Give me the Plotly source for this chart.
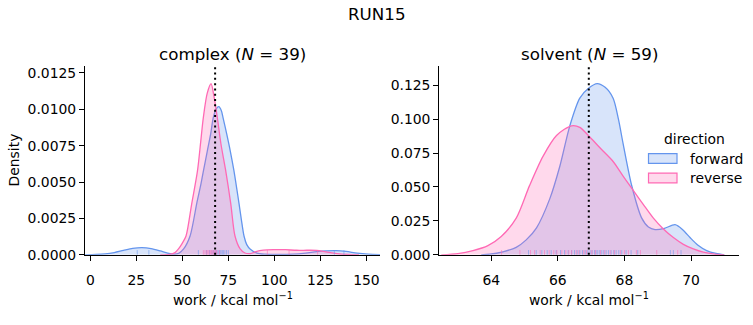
import plotly.graph_objects as go

# ---------------- data ----------------
complex_fwd_x = [-2.9, 3, 8, 13, 18, 23, 28, 33, 38, 42, 45.5, 48, 50.7, 54.2, 57.8, 60.0, 61.5,
                 63.5, 65.4, 66.8, 68.5, 69.8, 71.2, 72.1, 74.1, 76.1, 78.0, 79.5, 80.8, 82.2,
                 83.5, 85.0, 86.8, 90.5, 95, 102, 110, 117, 123, 128, 133.5, 139, 145, 151, 157.4]
complex_fwd_y = [0.0, 0.00002, 0.00006, 0.00015, 0.0003, 0.00044, 0.00049, 0.00043, 0.00027,
                 0.00012, 0.00005, 0.0001, 0.0004, 0.00129, 0.00352, 0.0048, 0.0058,
                 0.0071, 0.00831, 0.00943, 0.01005, 0.01018, 0.0099, 0.00943, 0.00831, 0.0071,
                 0.0058, 0.0046, 0.00352, 0.0023, 0.00129, 0.0007, 0.0004, 0.00012, 0.00004,
                 0.00002, 0.00004, 0.00012, 0.00022, 0.00027, 0.00029, 0.00023, 0.00011, 0.00004,
                 0.00001]

complex_rev_x = [38, 43, 46, 47.9, 50, 52.0, 55.1, 58.2, 60.0, 61.4, 63.5, 65.6, 67.3, 69.0, 71.0,
                 73.4, 76.3, 78.6, 81.4, 84, 87, 90, 94, 100, 106, 112, 118, 123, 128, 134, 140, 146]
complex_rev_y = [0.0, 0.00003, 0.00015, 0.0004, 0.0008, 0.00129, 0.00352, 0.00575, 0.0078,
                 0.00943, 0.0111, 0.01176, 0.0108, 0.00943, 0.0076, 0.0059, 0.00352, 0.00129,
                 0.0004, 0.00012, 0.00008, 0.00022, 0.00032, 0.00035, 0.00035, 0.00031, 0.00031,
                 0.0003, 0.0002, 0.00008, 0.00002, 0.0]

solvent_fwd_x = [63.7, 63.95, 64.35, 64.75, 65.05, 65.36, 65.76, 66.06, 66.36, 66.66, 66.94, 67.18,
                 67.42, 67.66, 67.82, 67.96, 68.22, 68.52, 68.72, 68.92, 69.2, 69.52, 69.75, 69.97,
                 70.2, 70.47, 70.75, 71.0]
solvent_fwd_y = [0.0, 0.0004, 0.0022, 0.0055, 0.011, 0.0199, 0.0414, 0.0653, 0.0951, 0.1155, 0.1231,
                 0.1262, 0.1235, 0.1155, 0.1, 0.082, 0.0509, 0.027, 0.0205, 0.0186, 0.0195, 0.0222,
                 0.0185, 0.0127, 0.0072, 0.0031, 0.001, 0.0]

solvent_rev_x = [62.5, 63.0, 63.45, 63.9, 64.3, 64.75, 65.15, 65.55, 65.96, 66.41, 66.66, 66.96,
                 67.3, 67.66, 67.96, 68.27, 68.57, 68.87, 69.17, 69.47, 69.77, 70.07, 70.37, 70.7, 71.0]
solvent_rev_y = [0.0, 0.0009, 0.0031, 0.0068, 0.0135, 0.027, 0.051, 0.0724, 0.088, 0.0951, 0.094,
                 0.0868, 0.078, 0.0688, 0.058, 0.0473, 0.037, 0.027, 0.019, 0.0127, 0.0077, 0.0043,
                 0.0019, 0.0005, 0.0]

# rug samples
complex_fwd_rug = [25.5, 31.8, 58.7, 63.2, 64.8, 66.1, 67.0, 67.9, 68.6, 69.3, 69.9, 70.4, 71.0,
                   71.7, 72.3, 73.1, 74.0, 75.0, 132.6, 137.8]
complex_rev_rug = [61.4, 62.3, 63.1, 63.8, 64.4, 65.0, 65.5, 66.0, 66.6, 67.1, 67.7, 68.3, 68.7,
                   70.2, 96.2, 108.0, 123.5]
solvent_fwd_rug = [65.12, 65.35, 65.52, 65.68, 65.8, 65.95, 66.08, 66.2, 66.31, 66.42, 66.5, 66.58,
                   66.66, 66.74, 66.82, 66.9, 66.97, 67.03, 67.1, 67.15, 67.2, 67.26, 67.32, 67.38,
                   67.45, 67.52, 67.6, 67.68, 67.75, 67.83, 67.92, 68.05, 68.2, 68.4, 69.38, 69.47, 69.7]
solvent_rev_rug = [64.31, 64.86, 65.18, 65.3, 65.47, 65.6, 65.74, 65.88, 65.97, 66.12, 66.24, 66.33,
                   66.41, 66.55, 66.63, 66.78, 66.86, 67.02, 67.13, 67.28, 67.41, 67.57, 67.7, 67.88,
                   68.0, 68.12, 68.36, 68.48, 68.97, 69.6]

complex_ref = 67.8
solvent_ref = 66.93

complex_ticks = [0, 25, 50, 75, 100, 125, 150]
complex_yticks = [0.0, 0.0025, 0.005, 0.0075, 0.01, 0.0125]
solvent_ticks = [64, 66, 68, 70]
solvent_yticks = [0.0, 0.025, 0.05, 0.075, 0.1, 0.125]

titles = ["complex (<i>N</i> = 39)", "solvent (<i>N</i> = 59)"]
suptitle = "RUN15"
legend_title = "direction"
directions = ["forward", "reverse"]

# ---------------- styling ----------------
W, H = 753, 325
FONT = "DejaVu Sans"
FS = 13.9
FT = 16.7
BLUE = (100, 149, 237)
PINK = (255, 105, 180)


def rgba(c, a):
    return f"rgba({c[0]},{c[1]},{c[2]},{a})"


def px_x(p):
    return p / W


def px_y(p):
    return 1 - p / H


fig = go.Figure()

panels = [
    ("x", "y", complex_fwd_x, complex_fwd_y, complex_rev_x, complex_rev_y,
     complex_fwd_rug, complex_rev_rug, complex_ref),
    ("x2", "y2", solvent_fwd_x, solvent_fwd_y, solvent_rev_x, solvent_rev_y,
     solvent_fwd_rug, solvent_rev_rug, solvent_ref),
]

shapes = []
for xa, ya, fx, fy, rx, ry, frug, rrug, ref in panels:
    for xs, ys, col in [(fx, fy, BLUE), (rx, ry, PINK)]:
        fig.add_trace(go.Scatter(
            x=xs, y=ys, mode="lines", xaxis=xa, yaxis=ya,
            line=dict(color=rgba(col, 1), width=1.3, shape="spline", smoothing=0.8),
            fill="tozeroy", fillcolor=rgba(col, 0.25),
            showlegend=False, hoverinfo="skip"))
    for rug, col in [(frug, BLUE), (rrug, PINK)]:
        for v in rug:
            shapes.append(dict(type="line", xref=xa, yref=f"{ya} domain",
                               x0=v, x1=v, y0=0, y1=0.025,
                               line=dict(color=rgba(col, 0.55), width=1)))
    shapes.append(dict(type="line", xref=xa, yref=f"{ya} domain",
                       x0=ref, x1=ref, y0=0, y1=1,
                       line=dict(color="black", width=2, dash="2px,3.3px")))

# legend (manual)
leg_items = [(directions[0], BLUE, 162), (directions[1], PINK, 182)]
annotations = []
for name, col, cy in leg_items:
    shapes.append(dict(type="rect", xref="paper", yref="paper",
                       x0=px_x(648.5), x1=px_x(677), y0=px_y(cy + 5), y1=px_y(cy - 5),
                       fillcolor=rgba(col, 0.25), line=dict(color=rgba(col, 1), width=1.2)))
    annotations.append(dict(text=name, x=px_x(688), y=px_y(cy), xref="paper", yref="paper",
                            xanchor="left", yanchor="middle", showarrow=False,
                            font=dict(family=FONT, size=FS, color="black")))
annotations.append(dict(text=legend_title, x=px_x(694), y=px_y(142), xref="paper", yref="paper",
                        xanchor="center", yanchor="middle", showarrow=False,
                        font=dict(family=FONT, size=FS, color="black")))

# titles and axis labels
dom1 = [85 / W, 380 / W]
dom2 = [439.3 / W, 739.3 / W]
ydom = [px_y(261), px_y(67.3)]
for dom, t in [(dom1, titles[0]), (dom2, titles[1])]:
    cx = (dom[0] + dom[1]) / 2
    annotations.append(dict(text=t, x=cx, y=px_y(54), xref="paper", yref="paper",
                            xanchor="center", yanchor="middle", showarrow=False,
                            font=dict(family=FONT, size=FT, color="black")))
    annotations.append(dict(text="work / kcal mol<sup>−1</sup>", x=cx, y=px_y(306),
                            xref="paper", yref="paper", xanchor="center", yanchor="middle",
                            showarrow=False, font=dict(family=FONT, size=FS, color="black")))
annotations.append(dict(text="Density", x=px_x(14), y=px_y(164), xref="paper", yref="paper",
                        xanchor="center", yanchor="middle", textangle=-90, showarrow=False,
                        font=dict(family=FONT, size=FS, color="black")))
annotations.append(dict(text=suptitle, x=px_x(376.5), y=px_y(13), xref="paper", yref="paper",
                        xanchor="center", yanchor="middle", showarrow=False,
                        font=dict(family=FONT, size=FT, color="black")))

axis_common = dict(showline=True, linecolor="black", linewidth=1.1, ticks="outside",
                   ticklen=5, tickwidth=1.1, tickcolor="black", showgrid=False, zeroline=False,
                   tickfont=dict(family=FONT, size=FS, color="black"), fixedrange=True)

fig.update_layout(
    width=W, height=H, margin=dict(l=0, r=0, t=0, b=0),
    paper_bgcolor="white", plot_bgcolor="white",
    xaxis=dict(domain=dom1, range=[-2.9, 157.4], tickvals=complex_ticks, anchor="y",
               ticklabelstandoff=7, **axis_common),
    yaxis=dict(domain=ydom, range=[0, 0.01295], tickvals=complex_yticks, tickformat=".4f",
               anchor="x", **axis_common),
    xaxis2=dict(domain=dom2, range=[62.44, 71.45], tickvals=solvent_ticks, anchor="y2",
                ticklabelstandoff=7, **axis_common),
    yaxis2=dict(domain=ydom, range=[0, 0.1389], tickvals=solvent_yticks, tickformat=".3f",
                anchor="x2", **axis_common),
    shapes=shapes, annotations=annotations, showlegend=False,
)

fig.write_html("out.html")
